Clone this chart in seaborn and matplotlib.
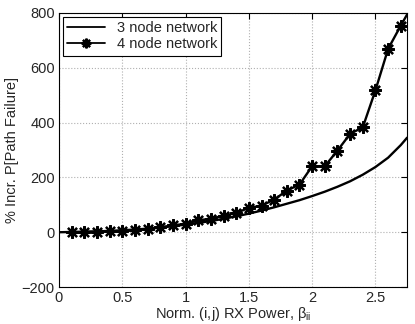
import matplotlib
matplotlib.use("Agg")
import matplotlib.pyplot as plt
import seaborn as sns
import pandas as pd

# 3 node network (smooth curve)
beta_3 = [0.0, 0.1, 0.2, 0.3, 0.4, 0.5, 0.6, 0.7, 0.8, 0.9, 1.0, 1.1, 1.2, 1.3, 1.4,
          1.5, 1.6, 1.7, 1.8, 1.9, 2.0, 2.1, 2.2, 2.3, 2.4, 2.5, 2.6, 2.7, 2.75]
incr_3 = [0, 1, 2, 3, 5, 7, 10, 13, 17, 22, 28, 34, 41, 49, 58,
          68, 79, 91, 104, 117, 132, 148, 166, 186, 210, 238, 272, 318, 345]

# 4 node network (asterisk markers)
beta_4 = [0.1, 0.2, 0.3, 0.4, 0.5, 0.6, 0.7, 0.8, 0.9, 1.0, 1.1, 1.2, 1.3, 1.4,
          1.5, 1.6, 1.7, 1.8, 1.9, 2.0, 2.1, 2.2, 2.3, 2.4, 2.5, 2.6, 2.7, 2.8]
incr_4 = [0, 1, 2, 3, 5, 8, 12, 18, 25, 31, 43, 50, 60, 70,
          89, 97, 119, 152, 174, 241, 241, 298, 359, 383, 518, 669, 754, 835]

x_ticks = [0, 0.5, 1, 1.5, 2, 2.5]
x_tick_labels = ["0", "0.5", "1", "1.5", "2", "2.5"]
y_ticks = [-200, 0, 200, 400, 600, 800]

sns.set_style("white")
plt.rcParams['font.family'] = ['Liberation Sans', 'DejaVu Sans']
plt.rcParams['mathtext.fontset'] = 'custom'
plt.rcParams['mathtext.rm'] = 'Liberation Sans'
plt.rcParams['mathtext.it'] = 'Liberation Sans'

df3 = pd.DataFrame({"beta": beta_3, "incr": incr_3})
df4 = pd.DataFrame({"beta": beta_4, "incr": incr_4})

fig = plt.figure(figsize=(4.15, 3.24), dpi=100)
ax = fig.add_axes([0.142, 0.114, 0.839, 0.846])

sns.lineplot(data=df3, x="beta", y="incr", ax=ax, color="black", linewidth=1.7,
             label="3 node network")
sns.lineplot(data=df4, x="beta", y="incr", ax=ax, color="black", linewidth=1.7,
             marker=(8, 2, 0), markersize=9, markeredgecolor="black",
             markeredgewidth=1.6, label="4 node network")

ax.set_xlim(0, 2.75)
ax.set_ylim(-200, 800)
ax.set_xticks(x_ticks)
ax.set_xticklabels(x_tick_labels)
ax.set_yticks(y_ticks)
ax.grid(True, linestyle=":", color="#b0b0b0", linewidth=0.8)
ax.tick_params(direction="in", length=4, labelsize=10.5, color="black",
               top=True, right=True, pad=3)
for s in ax.spines.values():
    s.set_color("black")
    s.set_linewidth(0.8)

ax.set_xlabel(r"Norm. (i,j) RX Power, $\beta_{\rm ii}$", fontsize=10.5, labelpad=0)
ax.set_ylabel("% Incr. P[Path Failure]", fontsize=10.5, labelpad=2)

leg = ax.legend(loc="upper left", fontsize=10.5, fancybox=False, framealpha=1,
                edgecolor="black", handlelength=2.6, borderaxespad=0.25,
                borderpad=0.3, labelspacing=0.15)
leg.get_frame().set_linewidth(0.8)
for line in leg.get_lines():
    line.set_linewidth(1.3)
    line.set_markersize(7)

fig.savefig("out.png", dpi=100)
